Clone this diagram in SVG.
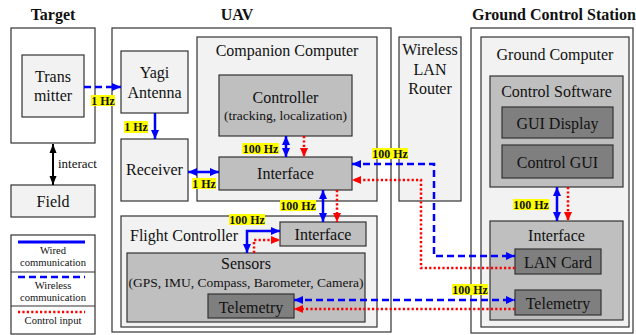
<svg xmlns="http://www.w3.org/2000/svg" width="636" height="335" viewBox="0 0 636 335" font-family="'Liberation Serif', 'Times New Roman', 'DejaVu Serif', serif">
<style>
text{font-family:'Liberation Serif','Times New Roman','DejaVu Serif',serif;fill:#111;text-anchor:middle}
.t{font-size:16px;font-weight:bold}
.n{font-size:16px}
.s{font-size:13.5px}
.lg{font-size:10.6px}
.hz{font-size:12px;font-weight:bold}
.box{stroke:#333;stroke-width:1.2}
.w{fill:#fff}
.l{fill:#f2f2f2}
.m{fill:#bfbfbf}
.d{fill:#7f7f7f}
.y{fill:#ffff00}
.wire{fill:none;stroke:#0000ff;stroke-width:2.5}
.wl{fill:none;stroke:#0000ff;stroke-width:2.5;stroke-dasharray:7,4}
.ci{fill:none;stroke:#ff0000;stroke-width:2.5;stroke-dasharray:2.2,2.2}
</style>
<defs>
<marker id="ab" markerUnits="userSpaceOnUse" markerWidth="10" markerHeight="10" refX="9" refY="5" orient="auto-start-reverse"><path d="M0,1 L9,5 L0,9 z" fill="#0000ff"/></marker>
<marker id="ar" markerUnits="userSpaceOnUse" markerWidth="10" markerHeight="10" refX="9" refY="5" orient="auto-start-reverse"><path d="M0,1 L9,5 L0,9 z" fill="#ff0000"/></marker>
<marker id="ak" markerUnits="userSpaceOnUse" markerWidth="10" markerHeight="10" refX="9" refY="5" orient="auto-start-reverse"><path d="M0,1.5 L9,5 L0,8.5 z" fill="#000"/></marker>
</defs>

<text class="t" x="53" y="20">Target</text>
<text class="t" x="237" y="20">UAV</text>
<text class="t" x="472" y="20" style="text-anchor:start">Ground Control Station</text>

<g id="target"><rect class="box w" x="11" y="28" width="84" height="115"/></g>
<g id="transmitter"><rect class="box l" x="22" y="55" width="62" height="62"/><text class="n" x="53" y="82">Trans</text><text class="n" x="53" y="101">mitter</text></g>
<g id="field"><rect class="box l" x="11" y="185" width="84" height="32"/><text class="n" x="53" y="207">Field</text></g>

<g id="legend">
<rect class="box w" x="11" y="235" width="84" height="99"/>
<line x1="11" y1="272" x2="95" y2="272" stroke="#333" stroke-width="1.2"/>
<line x1="11" y1="306" x2="95" y2="306" stroke="#333" stroke-width="1.2"/>
<line x1="18" y1="242" x2="85" y2="242" stroke="#0000ff" stroke-width="3"/>
<text class="lg" x="53" y="254">Wired</text><text class="lg" x="53" y="266">communication</text>
<line x1="18" y1="277" x2="85" y2="277" stroke="#0000ff" stroke-width="2.5" stroke-dasharray="7,4"/>
<text class="lg" x="53" y="289">Wireless</text><text class="lg" x="53" y="301">communication</text>
<line x1="18" y1="312" x2="85" y2="312" stroke="#ff0000" stroke-width="2.5" stroke-dasharray="2.2,2.2"/>
<text class="lg" x="53" y="324">Control input</text>
</g>

<g id="uav"><rect class="box w" x="112" y="28" width="279" height="304"/></g>
<g id="yagi"><rect class="box l" x="121" y="51" width="67" height="62"/><text class="n" x="154.5" y="78">Yagi</text><text class="n" x="154.5" y="98">Antenna</text></g>
<g id="receiver"><rect class="box l" x="121" y="139" width="67" height="62"/><text class="n" x="154.5" y="175">Receiver</text></g>
<g id="companion"><rect class="box l" x="197" y="37" width="180" height="164"/><text class="n" x="287" y="56">Companion Computer</text></g>
<g id="controller"><rect class="box m" x="219" y="75" width="133" height="61"/><text class="n" x="285.5" y="103">Controller</text><text class="s" x="285.5" y="120">(tracking, localization)</text></g>
<g id="cc-interface"><rect class="box m" x="219" y="157" width="133" height="33"/><text class="n" x="285.5" y="179">Interface</text></g>
<g id="flight"><rect class="box l" x="121" y="216" width="256" height="111"/><text class="n" x="130" y="241" style="text-anchor:start">Flight Controller</text></g>
<g id="fc-interface"><rect class="box m" x="280" y="222" width="86" height="24"/><text class="n" x="323" y="240">Interface</text></g>
<g id="sensors"><rect class="box m" x="127" y="253" width="238" height="69"/><text class="n" x="246" y="269">Sensors</text><text class="s" x="246" y="287">(GPS, IMU, Compass, Barometer, Camera)</text></g>
<g id="uav-telemetry"><rect class="box d" x="208" y="294" width="86" height="24"/><text class="n" x="251" y="313">Telemetry</text></g>

<g id="router"><rect class="box l" x="399" y="37" width="62" height="164"/><text class="n" x="430" y="55">Wireless</text><text class="n" x="430" y="75">LAN</text><text class="n" x="430" y="94">Router</text></g>

<g id="gcs"><rect class="box w" x="471" y="28" width="162" height="305"/></g>
<g id="ground-computer"><rect class="box l" x="481" y="37" width="148" height="290"/><text class="n" x="555" y="60">Ground Computer</text></g>
<g id="control-software"><rect class="box m" x="490" y="76" width="133" height="111"/><text class="n" x="556.5" y="97">Control Software</text></g>
<g id="gui-display"><rect class="box d" x="502" y="107" width="111" height="31"/><text class="n" x="557.5" y="129">GUI Display</text></g>
<g id="control-gui"><rect class="box d" x="502" y="145" width="111" height="33"/><text class="n" x="557.5" y="168">Control GUI</text></g>
<g id="gcs-interface"><rect class="box m" x="490" y="221" width="133" height="99"/><text class="n" x="556.5" y="241">Interface</text></g>
<g id="lan-card"><rect class="box d" x="515" y="249" width="86" height="25"/><text class="n" x="558" y="268">LAN Card</text></g>
<g id="gcs-telemetry"><rect class="box d" x="515" y="290" width="86" height="25"/><text class="n" x="558" y="309">Telemetry</text></g>

<g id="connectors">
<path d="M53,144 V185" stroke="#000" stroke-width="2" fill="none" marker-start="url(#ak)" marker-end="url(#ak)"/>
<path class="wl" d="M84,87 H121" marker-end="url(#ab)"/>
<path class="wire" d="M155,113 V139" marker-end="url(#ab)"/>
<path class="wire" d="M188,172 H219" marker-start="url(#ab)" marker-end="url(#ab)"/>
<path class="wire" d="M286,136 V157" marker-start="url(#ab)" marker-end="url(#ab)"/>
<path class="ci" d="M304,136 V157" marker-end="url(#ar)"/>
<path class="wire" d="M323,190 V222" marker-start="url(#ab)" marker-end="url(#ab)"/>
<path class="ci" d="M337,190 V222" marker-end="url(#ar)"/>
<path class="wire" d="M280,231 H247 V253" marker-start="url(#ab)" marker-end="url(#ab)"/>
<path class="ci" d="M254,253 V240 H280" marker-end="url(#ar)"/>
<path class="wl" d="M352,164 H434 V256 H515" marker-start="url(#ab)" marker-end="url(#ab)"/>
<path class="ci" d="M515,268 H421 V180 H352" marker-end="url(#ar)"/>
<path class="wl" d="M294,300 H515" marker-start="url(#ab)" marker-end="url(#ab)"/>
<path class="ci" d="M515,309 H294" marker-end="url(#ar)"/>
<path class="wire" d="M557,187 V221" marker-start="url(#ab)" marker-end="url(#ab)"/>
<path class="ci" d="M568,187 V221" marker-end="url(#ar)"/>
</g>
<text style="font-size:13px;text-anchor:start" x="58" y="168">interact</text>

<g id="labels">
<rect class="y" x="91" y="95" width="24" height="11"/><text class="hz" x="103" y="105">1 Hz</text>
<rect class="y" x="124" y="121" width="24" height="12"/><text class="hz" x="136" y="131">1 Hz</text>
<rect class="y" x="242" y="143" width="37" height="11"/><text class="hz" x="260.5" y="153">100 Hz</text>
<rect class="y" x="192" y="178" width="24" height="11"/><text class="hz" x="204" y="188">1 Hz</text>
<rect class="y" x="280" y="200" width="36" height="11"/><text class="hz" x="298" y="210">100 Hz</text>
<rect class="y" x="229" y="214" width="36" height="11"/><text class="hz" x="247" y="224">100 Hz</text>
<rect class="y" x="372" y="148" width="36" height="11"/><text class="hz" x="390" y="158">100 Hz</text>
<rect class="y" x="513" y="199" width="36" height="11"/><text class="hz" x="531" y="209">100 Hz</text>
<rect class="y" x="452" y="284" width="36" height="11"/><text class="hz" x="470" y="294">100 Hz</text>
</g>
</svg>
